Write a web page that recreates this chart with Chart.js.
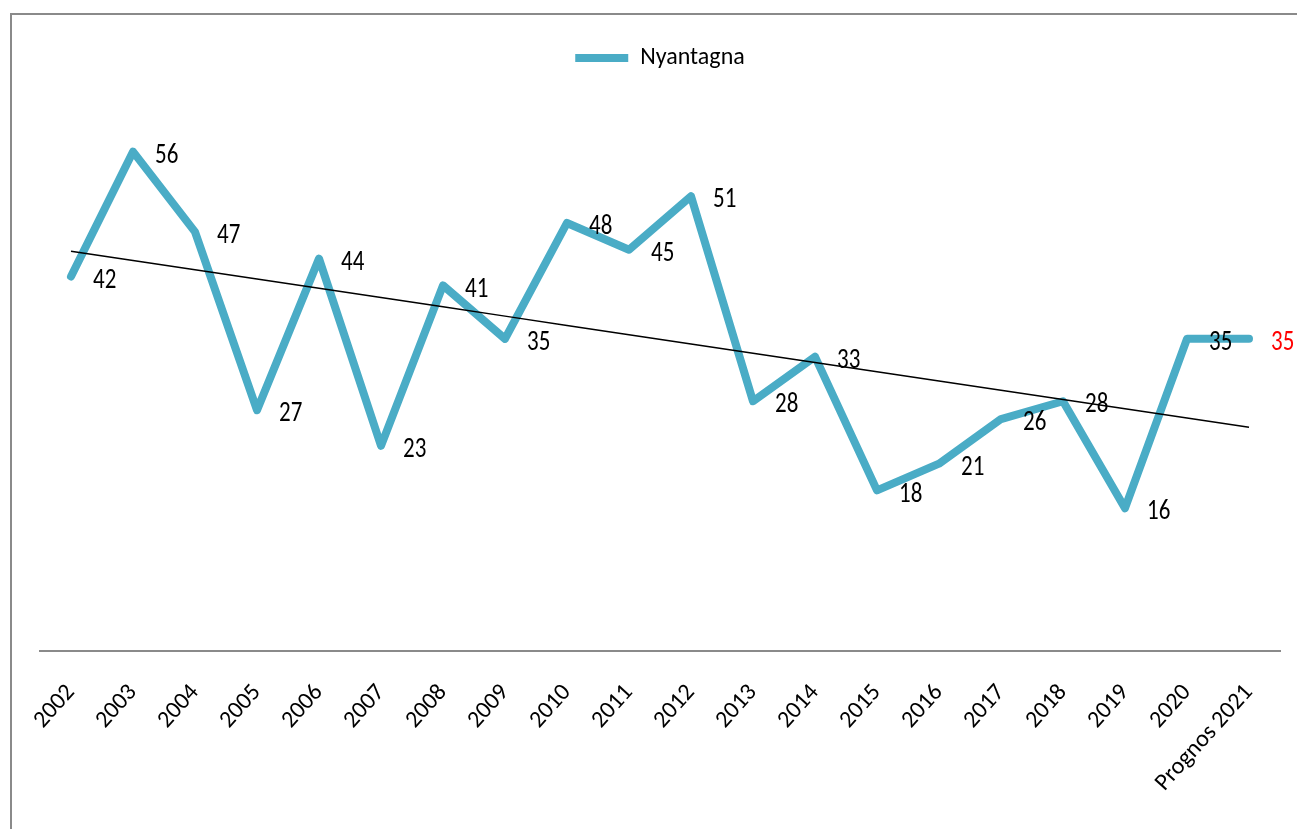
<!DOCTYPE html>
<html>
<head>
<meta charset="utf-8">
<script src="https://cdn.jsdelivr.net/npm/chart.js@4"></script>
<style>
    html, body { margin: 0; padding: 0; background: #fff; }
    #wrap { width: 1297px; height: 829px; position: relative; }
</style>
</head>
<body>
<div id="wrap"><canvas id="myChart" width="1297" height="829"></canvas></div>
<script>
const years = ['2002', '2003', '2004', '2005', '2006', '2007', '2008', '2009', '2010', '2011',
    '2012', '2013', '2014', '2015', '2016', '2017', '2018', '2019', '2020', 'Prognos 2021'];
const nyantagna = [42, 56, 47, 27, 44, 23, 41, 35, 48, 45, 51, 28, 33, 18, 21, 26, 28, 16, 35, 35];
const labelColors = nyantagna.map((v, i) => i === nyantagna.length - 1 ? '#ff0000' : '#000000');

const fontStack = 'Carlito, Calibri, Lato, sans-serif';

// linear trend over all points (least squares)
function trend(values) {
    const n = values.length;
    const mx = (n - 1) / 2;
    const my = values.reduce((s, v) => s + v, 0) / n;
    let sxy = 0, sxx = 0;
    values.forEach((v, i) => { sxy += (i - mx) * (v - my); sxx += (i - mx) * (i - mx); });
    const slope = sxy / sxx;
    return values.map((v, i) => my + slope * (i - mx));
}

const frame = {
    id: 'frame',
    beforeDraw(chart) {
        const ctx = chart.ctx;
        ctx.save();
        ctx.strokeStyle = '#8a8a8a';
        ctx.lineWidth = 2;
        ctx.beginPath();
        ctx.moveTo(11, 829);
        ctx.lineTo(11, 14);
        ctx.lineTo(1297, 14);
        ctx.stroke();
        ctx.restore();
    }
};

// value labels to the right of each point (text is a bit taller than wide, like the original)
const valueLabels = {
    id: 'valueLabels',
    afterDatasetsDraw(chart) {
        const ctx = chart.ctx;
        const meta = chart.getDatasetMeta(0);
        meta.data.forEach((pt, i) => {
            ctx.save();
            ctx.translate(pt.x + 22, pt.y + 4);
            ctx.scale(1, 1.25);
            ctx.font = '23px ' + fontStack;
            ctx.textAlign = 'left';
            ctx.textBaseline = 'middle';
            ctx.fillStyle = labelColors[i];
            ctx.fillText(String(nyantagna[i]), 0, 0);
            ctx.restore();
        });
    }
};

const legendSpace = {
    id: 'legendSpace',
    beforeInit(chart) {
        const fit = chart.legend.fit;
        chart.legend.fit = function () {
            fit.bind(chart.legend)();
            this.height += 36;
        };
    }
};

new Chart(document.getElementById('myChart'), {
    type: 'line',
    data: {
        labels: years,
        datasets: [{
            label: 'Nyantagna',
            data: nyantagna,
            borderColor: '#4aacc6',
            backgroundColor: '#4aacc6',
            borderWidth: 8,
            borderCapStyle: 'round',
            borderJoinStyle: 'round',
            pointRadius: 0,
            tension: 0,
            order: 1
        }, {
            label: 'trend',
            data: trend(nyantagna),
            borderColor: '#000000',
            borderWidth: 1.5,
            pointRadius: 0,
            tension: 0,
            order: 0
        }]
    },
    options: {
        responsive: false,
        animation: false,
        layout: { padding: { left: 40, right: 17, top: 36, bottom: 12 } },
        plugins: {
            legend: {
                position: 'top',
                labels: {
                    filter: item => item.datasetIndex === 0,
                    usePointStyle: true,
                    pointStyle: 'line',
                    pointStyleWidth: 53,
                    color: '#000',
                    font: { family: fontStack, size: 24 }
                }
            },
            tooltip: { enabled: false }
        },
        scales: {
            x: {
                offset: true,
                grid: { display: false },
                border: { display: true, color: '#8a8a8a', width: 2 },
                ticks: {
                    color: '#000',
                    minRotation: 48,
                    maxRotation: 48,
                    padding: 20,
                    autoSkip: false,
                    font: { family: fontStack, size: 24 }
                }
            },
            y: {
                display: false,
                min: 0,
                max: 60
            }
        }
    },
    plugins: [frame, valueLabels, legendSpace]
});
</script>
</body>
</html>
